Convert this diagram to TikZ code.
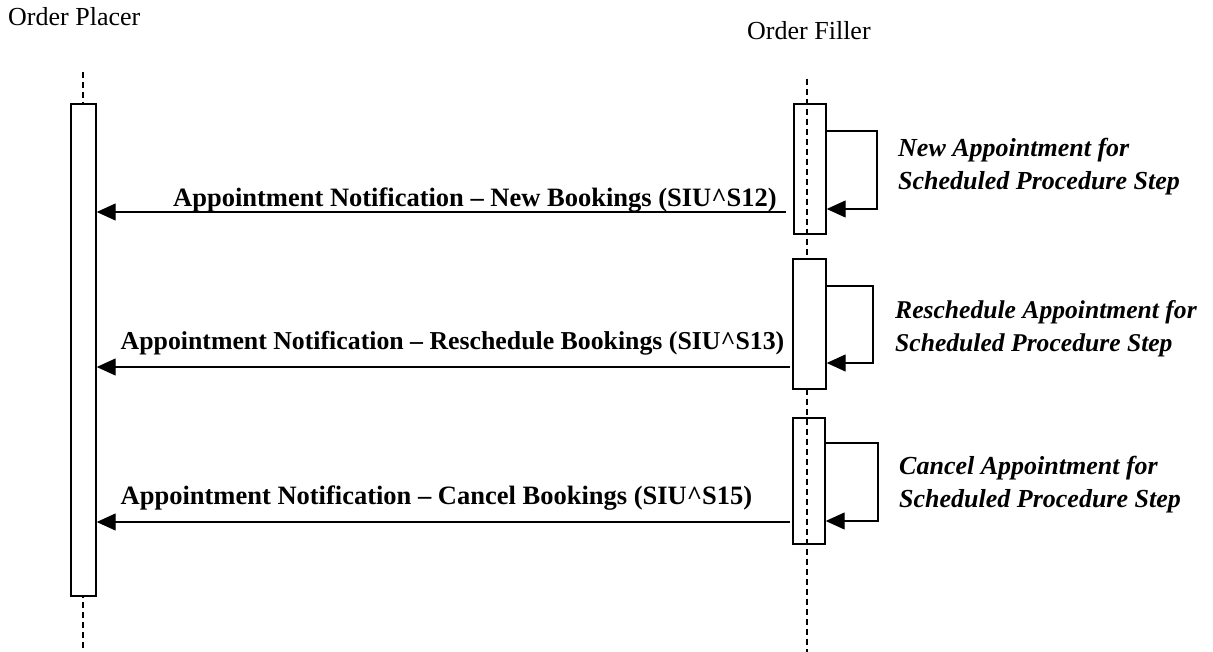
\documentclass[tikz,border=0pt]{standalone}
\usepackage{fontspec}
\setmainfont{Liberation Serif}
\usetikzlibrary{arrows.meta}
\begin{document}
\begin{tikzpicture}[x=1pt,y=-1pt,
  actor/.style={font=\fontsize{26}{30}\selectfont, inner sep=0pt, anchor=base west},
  lifeline/.style={line width=1.2pt, dash pattern=on 6pt off 4pt},
  actbox/.style={draw, line width=1.4pt, fill=white, inner sep=0pt},
  actboxclear/.style={draw, line width=1.4pt, inner sep=0pt},
  msg/.style={line width=1.2pt, -{Triangle[length=19pt,width=17pt]}},
  selfmsg/.style={line width=1.2pt, -{Triangle[length=19pt,width=17pt]}},
  msglabel/.style={font=\bfseries\fontsize{26.5}{30}\selectfont, inner sep=0pt, anchor=base},
  note/.style={font=\bfseries\itshape\fontsize{26}{33}\selectfont, inner sep=0pt, anchor=base west, align=left}]
\useasboundingbox (0,0) rectangle (1213,652);
% actors
\node[actor] (placer) at (8,26) {Order Placer};
\node[actor] (filler) at (747,40) {Order Filler};
% lifelines
\coordinate (pTop) at (83,72);
\coordinate (pBot) at (83,652);
\coordinate (fTop) at (807,79);
\coordinate (fBot) at (807,652);
\draw[lifeline] (pTop) -- (pBot);
\draw[lifeline] (fTop) -- (fBot);
% activation boxes
\node[actbox, minimum width=25pt, minimum height=492pt] (act) at (83.5,350) {};
\node[actboxclear, minimum width=32pt, minimum height=130pt] (b1) at (810,169) {};
\node[actbox, minimum width=33pt, minimum height=130pt] (b2) at (809.5,324) {};
\node[actboxclear, minimum width=32pt, minimum height=126pt] (b3) at (809,481) {};
% messages
\coordinate (m1) at (786,212);
\coordinate (m2) at (790,367);
\coordinate (m3) at (790,522);
\draw[msg] (m1) -- (m1 -| act.east);
\draw[msg] (m2) -- (m2 -| act.east);
\draw[msg] (m3) -- (m3 -| act.east);
\node[msglabel] (l1) at (475,207) {Appointment Notification – New Bookings (SIU\^{}S12)};
\node[msglabel, font=\bfseries\fontsize{25.8}{30}\selectfont] (l2) at (452.5,349) {Appointment Notification – Reschedule Bookings (SIU\^{}S13)};
\node[msglabel] (l3) at (436.5,504) {Appointment Notification – Cancel Bookings (SIU\^{}S15)};
% self messages
\draw[selfmsg] (b1.east |- 0,131) -- (877,131) -- (877,209) -- (b1.east |- 0,209);
\draw[selfmsg] (b2.east |- 0,286) -- (873,286) -- (873,363) -- (b2.east |- 0,363);
\draw[selfmsg] (b3.east |- 0,443) -- (878,443) -- (878,521) -- (b3.east |- 0,521);
\node[note] (n1) at (898,190) {New Appointment for\\Scheduled Procedure Step};
\node[note, font=\bfseries\itshape\fontsize{25.6}{33}\selectfont] (n2) at (895,352) {Reschedule Appointment for\\Scheduled Procedure Step};
\node[note] (n3) at (899,507) {Cancel Appointment for\\Scheduled Procedure Step};
\end{tikzpicture}
\end{document}
